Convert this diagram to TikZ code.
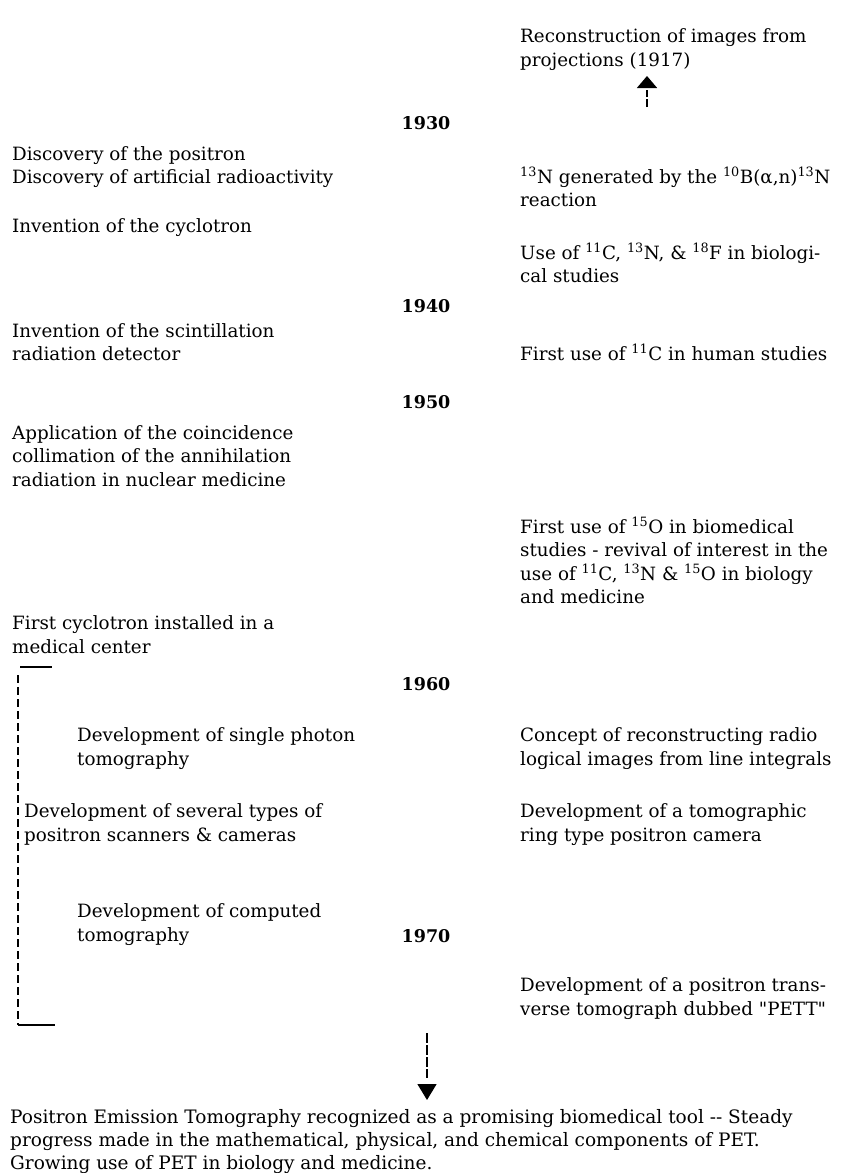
\documentclass[tikz,border=0pt]{standalone}
\usepackage{fontspec}
\setmainfont{DejaVu Serif}[Ligatures=TeXOff]
\usetikzlibrary{arrows.meta}
\newcommand{\mainsz}{\fontsize{18.3}{23.5}\selectfont}
\newcommand{\botsz}{\fontsize{18.5}{23}\selectfont}
\newcommand{\sps}[1]{\textsuperscript{#1}}
\tikzset{
  txt/.style={anchor=base west, inner sep=0pt, align=left, font=\mainsz},
  yr/.style={anchor=base, inner sep=0pt, font=\fontsize{17.5}{20}\selectfont\bfseries},
  bot/.style={anchor=base west, inner sep=0pt, align=left, font=\botsz},
  dline/.style={line width=1.5pt},
  tri/.style={-{Triangle[width=20pt,length=12pt]}},
  tridown/.style={-{Triangle[width=19pt,length=16pt]}}
}
\begin{document}
\begin{tikzpicture}[x=1pt,y=-1pt]
\useasboundingbox (0,0) rectangle (844,1173);
% right column (anchors at the baseline of the last line)
\node[txt] (recon) at (520,66) {Reconstruction of images from\\projections (1917)};
\node[txt] (n13) at (520,206.5) {\sps{13}N generated by the \sps{10}B(α,n)\sps{13}N\\reaction};
\node[txt] (use) at (520,282.5) {Use of \sps{11}C, \sps{13}N, \& \sps{18}F in biologi-\\cal studies};
\node[txt] (c11) at (520,360) {First use of \sps{11}C in human studies};
\node[txt] (o15) at (520,603.5) {First use of \sps{15}O in biomedical\\studies - revival of interest in the\\use of \sps{11}C, \sps{13}N \& \sps{15}O in biology\\and medicine};
\node[txt] (concept) at (520,765) {Concept of reconstructing radio\\logical images from line integrals};
\node[txt] (ring) at (520,841) {Development of a tomographic\\ring type positron camera};
\node[txt] (pett) at (520,1015) {Development of a positron trans-\\verse tomograph dubbed "PETT"};
% years
\node[yr] (y1930) at (426,129) {1930};
\node[yr] (y1940) at (426,312) {1940};
\node[yr] (y1950) at (426,408) {1950};
\node[yr] (y1960) at (426,690) {1960};
\node[yr] (y1970) at (426,942) {1970};
% left column
\node[txt] (posi) at (12,183.5) {Discovery of the positron\\Discovery of artificial radioactivity};
\node[txt] (cyc) at (12,232) {Invention of the cyclotron};
\node[txt] (scint) at (12,360.5) {Invention of the scintillation\\radiation detector};
\node[txt] (coinc) at (12,486) {Application of the coincidence\\collimation of the annihilation\\radiation in nuclear medicine};
\node[txt] (med) at (12,653) {First cyclotron installed in a\\medical center};
\node[txt] (spect) at (77,765) {Development of single photon\\tomography};
\node[txt] (scan) at (24,841) {Development of several types of\\positron scanners \& cameras};
\node[txt] (ct) at (77,941) {Development of computed\\tomography};
% bottom
\node[bot] (pet) at (10,1169.5) {Positron Emission Tomography recognized as a promising biomedical tool -- Steady\\progress made in the mathematical, physical, and chemical components of PET.\\Growing use of PET in biology and medicine.};
% bracket
\draw[dline] (20,667) -- (52,667);
\draw[dline, dash pattern=on 8pt off 4pt] (18,675) -- (18,1025);
\draw[dline] (18,1025) -- (55,1025);
% arrows
\coordinate (upstart) at (647,107);
\draw[dline, tri, dash pattern=on 8pt off 2pt on 7pt off 30pt] (upstart) -- (upstart |- 0,76);
\coordinate (downstart) at (427,1033);
\draw[dline, tridown, dash pattern=on 10pt off 2pt on 10pt off 2pt on 10pt off 2pt on 9pt off 30pt] (downstart) -- (downstart |- 0,1100);
\end{tikzpicture}
\end{document}
